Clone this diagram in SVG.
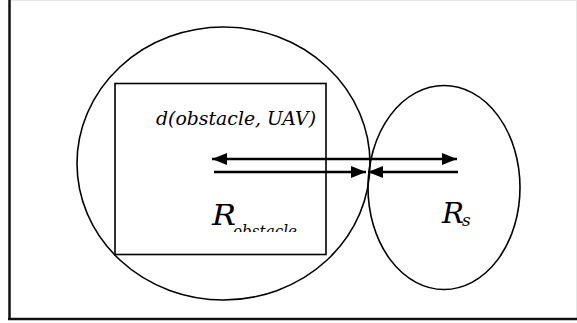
<svg xmlns="http://www.w3.org/2000/svg" width="577" height="323" viewBox="0 0 577 323">
<style>
.sh{fill:none;stroke:#000;stroke-width:1.6}
.ar{stroke:#000;stroke-width:2.5;fill:none}
.t{font-family:'DejaVu Serif','Liberation Serif',serif;font-style:italic;fill:#000}
</style>
<defs>
<marker id="ah" viewBox="0 0 15 12" refX="15" refY="6" markerWidth="15" markerHeight="12" markerUnits="userSpaceOnUse" orient="auto-start-reverse">
<path d="M0,0 L15,6 L0,12 Z" fill="#000"/>
</marker>
<clipPath id="cp"><rect x="0" y="0" width="577" height="232"/></clipPath>
</defs>
<rect width="577" height="323" fill="#fff"/>
<g id="frame">
<line x1="9" y1="0.5" x2="577" y2="0.5" stroke="#e6e6e6" stroke-width="1"/>
<line x1="576.5" y1="0" x2="576.5" y2="319" stroke="#e6e6e6" stroke-width="1"/>
<line x1="9.5" y1="0" x2="9.5" y2="320" stroke="#111" stroke-width="2.5"/>
<line x1="8" y1="319" x2="577" y2="319" stroke="#111" stroke-width="2.5"/>
</g>
<g id="obstacle-zone">
<ellipse class="sh" cx="223.5" cy="163.5" rx="146.5" ry="136.5"/>
</g>
<g id="obstacle">
<rect class="sh" x="115" y="83.5" width="211" height="171" stroke-width="2"/>
</g>
<g id="uav-zone">
<ellipse class="sh" cx="444" cy="187.5" rx="76" ry="102"/>
</g>
<g id="connectors">
<line class="ar" x1="212" y1="159" x2="457" y2="159" marker-start="url(#ah)" marker-end="url(#ah)"/>
<line class="ar" x1="214" y1="172" x2="366" y2="172" marker-end="url(#ah)"/>
<line class="ar" x1="458" y1="172" x2="368" y2="172" marker-end="url(#ah)"/>
</g>
<g id="labels">
<text class="t" x="156" y="125" font-size="18" textLength="160" lengthAdjust="spacingAndGlyphs">d(obstacle, UAV)</text>
<text class="t" x="212" y="225" font-size="27" textLength="24" lengthAdjust="spacingAndGlyphs">R</text>
<text class="t" x="233" y="237" font-size="17" textLength="64" lengthAdjust="spacingAndGlyphs" clip-path="url(#cp)">obstacle</text>
<text class="t" x="442" y="223" font-size="27" textLength="22" lengthAdjust="spacingAndGlyphs">R</text>
<text class="t" x="462" y="226" font-size="17">s</text>
</g>
</svg>
